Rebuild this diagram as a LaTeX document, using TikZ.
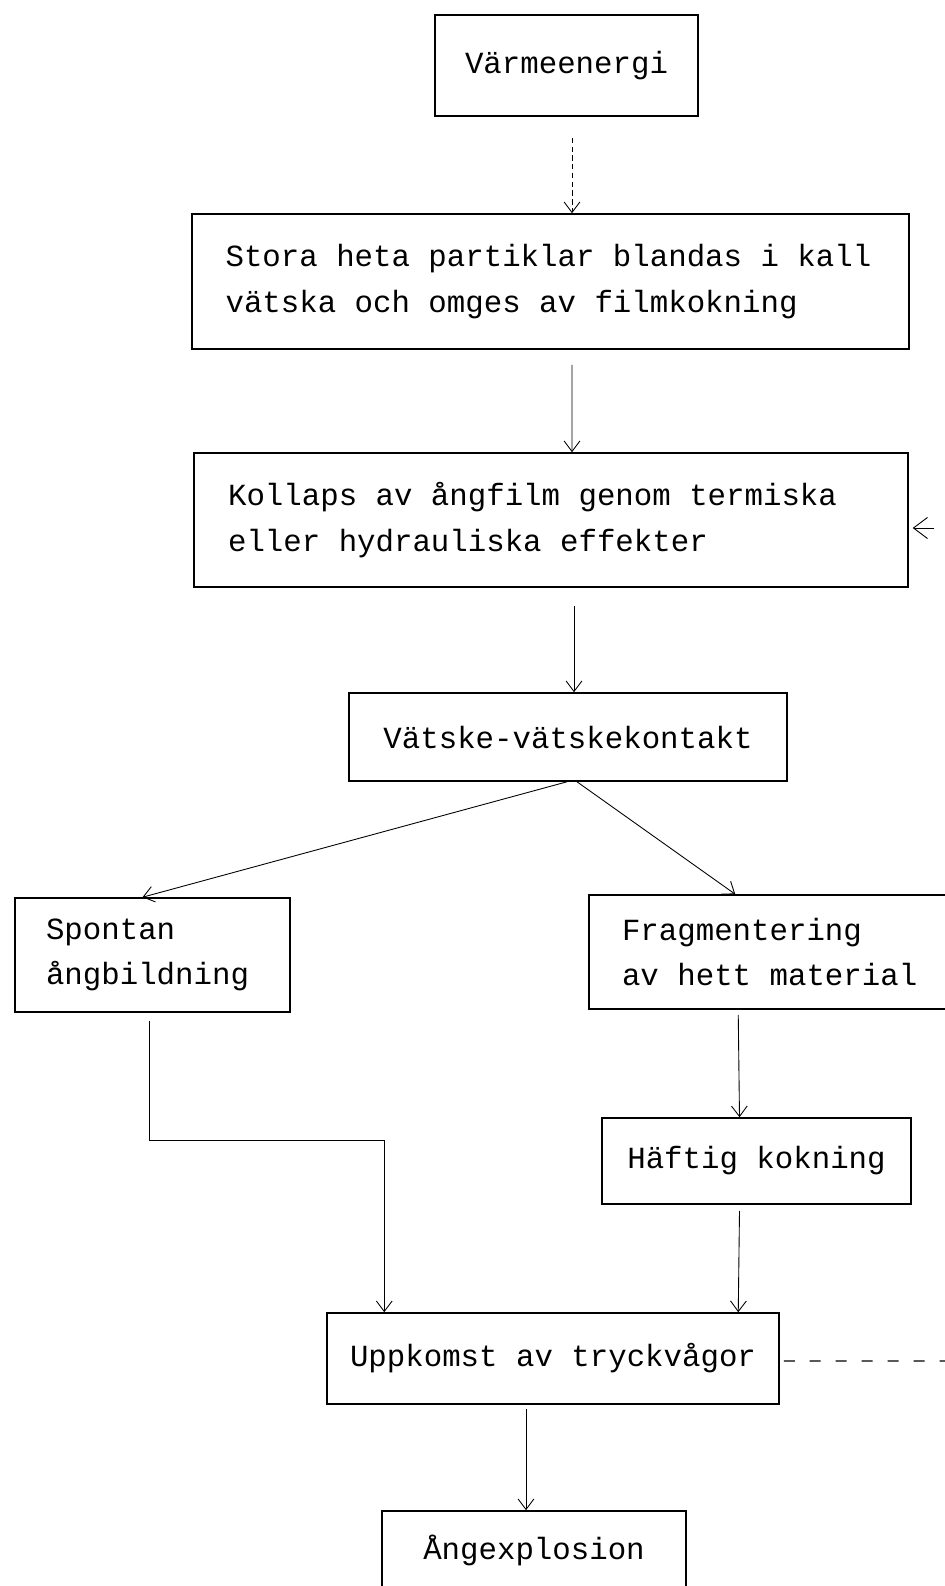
\documentclass[tikz,border=0pt]{standalone}
\usepackage{fontspec}
\setmonofont{Liberation Mono}
\usetikzlibrary{positioning,calc,arrows.meta}

\begin{document}
\begin{tikzpicture}[x=0.02cm,y=-0.02cm,
    box/.style={draw, line width=0.9pt, inner sep=0pt, font=\ttfamily\fontsize{17.5}{26}\selectfont,
                execute at begin node={\spaceskip=0pt\xspaceskip=0pt\relax}},
    flow/.style={-{Straight Barb[length=6pt,width=9pt]}, line width=0.5pt},
    bigflow/.style={-{Straight Barb[length=8pt,width=12pt]}, line width=0.5pt}]
     \useasboundingbox (0,0) rectangle (945,1586);
     \clip (0,0) rectangle (945,1586);

     \node [box, minimum width=5.26cm, minimum height=2.02cm] (varme) at (566.5,65.5) {Värmeenergi};
     \node [box, minimum width=14.34cm, minimum height=2.7cm, text width=13cm, align=left] (stora) at (550.5,281.5)
        {Stora heta partiklar blandas i kall\\vätska och omges av filmkokning};
     \node [box, minimum width=14.28cm, minimum height=2.68cm, text width=12.92cm, align=left] (kollaps) at (551,520)
        {Kollaps av ångfilm genom termiska\\eller hydrauliska effekter};
     \node [box, minimum width=8.76cm, minimum height=1.76cm] (kontakt) at (568,737) {Vätske-vätskekontakt};

     \node [box, minimum width=5.5cm, minimum height=2.28cm, text width=4.26cm, align=left] (spontan) at (152.5,955)
        {Spontan\\ångbildning};
     \node [box, minimum width=7.52cm, minimum height=2.28cm, text width=6.2cm, align=left] (fragment) at (777,952)
        {Fragmentering\\av hett material};
     \node [box, minimum width=6.18cm, minimum height=1.72cm] (haeftig) at (756.5,1161) {Häftig kokning};

     \node [box, minimum width=9.04cm, minimum height=1.82cm] (uppkomst) at (553,1358.5) {Uppkomst av tryckvågor};
     \node [box, minimum width=6.08cm, minimum height=1.56cm] (explosion) at (534,1550) {Ångexplosion};

     \draw [flow, densely dashed] ($(varme.south)+(5.5,21)$) -- ($(stora.north)+(21.5,0)$);
     \draw [flow] ($(stora.south)+(21.5,15)$) -- ($(kollaps.north)+(21,0)$);
     \draw [flow] ($(kollaps.south)+(23,18)$) -- ($(kontakt.north)+(6,0)$);
     \coordinate (aterkoppling) at (934,528);
     \draw [bigflow] (aterkoppling) -- ($(kollaps.east)+(4,8)$);

     \draw [flow] ($(kontakt.south)+(-1,0)$) -- ($(spontan.north)+(-10,0)$);
     \draw [flow] ($(kontakt.south)+(9,0)$) -- ($(fragment.north west)+(147,0)$);

     \draw [flow] ($(spontan.south)+(-3.5,8)$) -- ++(0,120) -| ($(uppkomst.north west)+(58,0)$);
     \draw [flow] ($(fragment.south west)+(150,5)$) -- ($(haeftig.north)+(-17,0)$);
     \draw [flow] ($(haeftig.south)+(-17,6)$) -- ($(uppkomst.north west)+(412,0)$);

     \coordinate (rand) at (945,1361);
     \draw [line width=0.6pt, dash pattern=on 0.22cm off 0.3cm] ($(uppkomst.east)+(4,2.5)$) -- (rand);
     \draw [flow] ($(uppkomst.south)+(-27,4)$) -- ($(explosion.north)+(-8,0)$);
\end{tikzpicture}
\end{document}
